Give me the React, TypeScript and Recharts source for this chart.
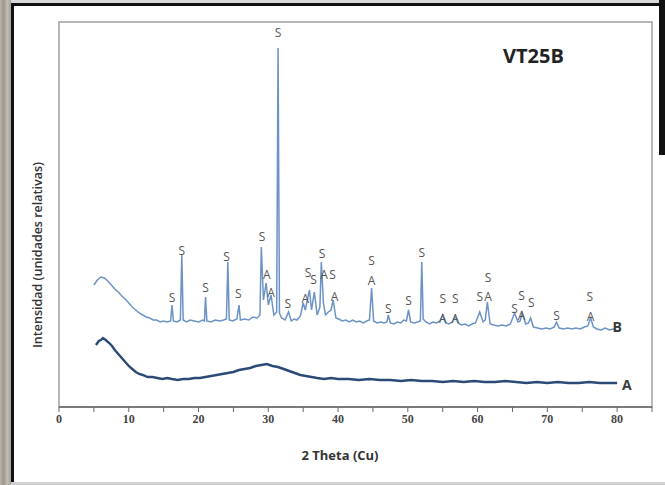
import React from "react";
import { LineChart, Line, XAxis, YAxis, Scatter, ReferenceArea } from "recharts";

// Intensity in arbitrary relative units
const traceB = [
  { x: 5.0, y: 122 }, { x: 5.5, y: 127 }, { x: 6.0, y: 130 }, { x: 6.5, y: 129 }, { x: 7.0, y: 126 },
  { x: 7.5, y: 122 }, { x: 8.0, y: 118 }, { x: 8.5, y: 115 }, { x: 9.0, y: 111 }, { x: 9.5, y: 108 },
  { x: 10.0, y: 104 }, { x: 10.5, y: 100 }, { x: 11.0, y: 97 }, { x: 11.5, y: 94 }, { x: 12.0, y: 92 },
  { x: 12.5, y: 90 }, { x: 13.0, y: 89 }, { x: 13.5, y: 87 }, { x: 14.0, y: 87 }, { x: 14.5, y: 85 },
  { x: 15.0, y: 86 }, { x: 15.5, y: 85 }, { x: 16.0, y: 86 }, { x: 16.2, y: 102 }, { x: 16.4, y: 86 },
  { x: 16.9, y: 85 }, { x: 17.4, y: 87 }, { x: 17.6, y: 152 }, { x: 17.8, y: 87 }, { x: 18.3, y: 85 },
  { x: 18.8, y: 87 }, { x: 19.4, y: 86 }, { x: 20.0, y: 85 }, { x: 20.6, y: 87 }, { x: 20.85, y: 86 },
  { x: 21.0, y: 110 }, { x: 21.2, y: 86 }, { x: 21.8, y: 85 }, { x: 22.4, y: 87 }, { x: 23.0, y: 86 },
  { x: 23.6, y: 87 }, { x: 24.0, y: 88 }, { x: 24.2, y: 145 }, { x: 24.4, y: 87 }, { x: 24.9, y: 86 },
  { x: 25.5, y: 88 }, { x: 25.8, y: 102 }, { x: 26.0, y: 87 }, { x: 26.6, y: 88 }, { x: 27.2, y: 87 },
  { x: 27.8, y: 90 }, { x: 28.4, y: 89 }, { x: 28.8, y: 92 }, { x: 29.0, y: 160 }, { x: 29.3, y: 107 },
  { x: 29.7, y: 124 }, { x: 30.0, y: 102 }, { x: 30.4, y: 112 }, { x: 30.8, y: 92 }, { x: 31.2, y: 95 },
  { x: 31.4, y: 359 }, { x: 31.6, y: 94 }, { x: 31.9, y: 89 }, { x: 32.4, y: 87 }, { x: 32.9, y: 95 },
  { x: 33.3, y: 86 }, { x: 33.7, y: 88 }, { x: 34.1, y: 87 }, { x: 34.6, y: 91 }, { x: 35.0, y: 104 },
  { x: 35.3, y: 97 }, { x: 35.6, y: 107 }, { x: 35.9, y: 117 }, { x: 36.2, y: 97 }, { x: 36.6, y: 115 },
  { x: 37.0, y: 92 }, { x: 37.4, y: 100 }, { x: 37.6, y: 145 }, { x: 37.9, y: 104 }, { x: 38.2, y: 92 },
  { x: 38.6, y: 95 }, { x: 39.0, y: 97 }, { x: 39.3, y: 107 }, { x: 39.7, y: 89 }, { x: 40.1, y: 88 },
  { x: 40.6, y: 86 }, { x: 41.1, y: 87 }, { x: 41.6, y: 85 }, { x: 42.1, y: 87 }, { x: 42.6, y: 85 },
  { x: 43.1, y: 86 }, { x: 43.6, y: 84 }, { x: 44.1, y: 86 }, { x: 44.5, y: 87 }, { x: 44.8, y: 119 },
  { x: 45.1, y: 86 }, { x: 45.6, y: 84 }, { x: 46.1, y: 85 }, { x: 46.6, y: 84 }, { x: 47.0, y: 85 },
  { x: 47.2, y: 92 }, { x: 47.5, y: 84 }, { x: 48.0, y: 83 }, { x: 48.5, y: 85 }, { x: 49.0, y: 84 },
  { x: 49.4, y: 87 }, { x: 49.8, y: 86 }, { x: 50.1, y: 97 }, { x: 50.4, y: 85 }, { x: 50.9, y: 84 },
  { x: 51.4, y: 85 }, { x: 51.8, y: 86 }, { x: 52.0, y: 145 }, { x: 52.2, y: 88 }, { x: 52.6, y: 85 },
  { x: 53.1, y: 83 }, { x: 53.6, y: 85 }, { x: 54.1, y: 84 }, { x: 54.6, y: 86 }, { x: 55.0, y: 92 },
  { x: 55.4, y: 84 }, { x: 55.9, y: 83 }, { x: 56.4, y: 85 }, { x: 56.8, y: 91 }, { x: 57.2, y: 84 },
  { x: 57.7, y: 82 }, { x: 58.2, y: 83 }, { x: 58.7, y: 81 }, { x: 59.2, y: 83 }, { x: 59.7, y: 84 },
  { x: 60.3, y: 95 }, { x: 60.8, y: 85 }, { x: 61.1, y: 87 }, { x: 61.4, y: 105 }, { x: 61.8, y: 83 },
  { x: 62.3, y: 82 }, { x: 62.9, y: 81 }, { x: 63.5, y: 82 }, { x: 64.1, y: 81 }, { x: 64.7, y: 83 },
  { x: 65.3, y: 94 }, { x: 65.8, y: 85 }, { x: 66.1, y: 86 }, { x: 66.4, y: 94 }, { x: 66.9, y: 83 },
  { x: 67.3, y: 84 }, { x: 67.6, y: 89 }, { x: 68.0, y: 80 }, { x: 68.6, y: 79 }, { x: 69.2, y: 78 },
  { x: 69.8, y: 79 }, { x: 70.4, y: 78 }, { x: 71.0, y: 80 }, { x: 71.3, y: 85 }, { x: 71.7, y: 79 },
  { x: 72.3, y: 78 }, { x: 72.9, y: 79 }, { x: 73.5, y: 78 }, { x: 74.1, y: 79 }, { x: 74.7, y: 78 },
  { x: 75.3, y: 80 }, { x: 75.8, y: 81 }, { x: 76.2, y: 89 }, { x: 76.6, y: 80 }, { x: 77.1, y: 78 },
  { x: 77.7, y: 77 }, { x: 78.3, y: 79 }, { x: 78.9, y: 77 }, { x: 79.5, y: 78 }, { x: 80.0, y: 76 },
];

const traceA = [
  { x: 5.3, y: 62 }, { x: 5.7, y: 66 }, { x: 6.0, y: 67 }, { x: 6.3, y: 69 }, { x: 6.7, y: 67 },
  { x: 7.2, y: 64 }, { x: 7.6, y: 61 }, { x: 8.0, y: 57 }, { x: 8.5, y: 53 }, { x: 9.0, y: 49 },
  { x: 9.5, y: 45 }, { x: 10.0, y: 41 }, { x: 10.5, y: 38 }, { x: 11.0, y: 35 }, { x: 11.5, y: 33 },
  { x: 12.0, y: 32 }, { x: 12.7, y: 30 }, { x: 13.4, y: 30 }, { x: 14.1, y: 29 }, { x: 14.8, y: 28 },
  { x: 15.5, y: 29 }, { x: 16.2, y: 28 }, { x: 17.0, y: 27 }, { x: 17.8, y: 28 }, { x: 18.6, y: 28 },
  { x: 19.4, y: 29 }, { x: 20.2, y: 29 }, { x: 21.0, y: 30 }, { x: 21.8, y: 31 }, { x: 22.6, y: 32 },
  { x: 23.4, y: 33 }, { x: 24.2, y: 34 }, { x: 25.0, y: 35 }, { x: 25.8, y: 37 }, { x: 26.6, y: 38 },
  { x: 27.4, y: 39 }, { x: 28.2, y: 41 }, { x: 29.0, y: 42 }, { x: 29.8, y: 43 }, { x: 30.6, y: 41 },
  { x: 31.4, y: 40 }, { x: 32.2, y: 38 }, { x: 33.0, y: 36 }, { x: 33.8, y: 34 }, { x: 34.6, y: 32 },
  { x: 35.4, y: 31 }, { x: 36.2, y: 30 }, { x: 37.0, y: 29 }, { x: 38.0, y: 28 }, { x: 39.0, y: 29 },
  { x: 40.0, y: 28 }, { x: 41.5, y: 28 }, { x: 43.0, y: 27 }, { x: 44.5, y: 28 }, { x: 46.0, y: 27 },
  { x: 47.5, y: 27 }, { x: 49.0, y: 26 }, { x: 50.5, y: 27 }, { x: 52.0, y: 26 }, { x: 53.5, y: 26 },
  { x: 55.0, y: 25 }, { x: 56.5, y: 26 }, { x: 58.0, y: 25 }, { x: 59.5, y: 26 }, { x: 61.0, y: 25 },
  { x: 62.5, y: 25 }, { x: 64.0, y: 26 }, { x: 65.5, y: 25 }, { x: 67.0, y: 24 }, { x: 68.5, y: 25 },
  { x: 70.0, y: 24 }, { x: 71.5, y: 25 }, { x: 73.0, y: 24 }, { x: 74.5, y: 24 }, { x: 76.0, y: 25 },
  { x: 77.5, y: 24 }, { x: 79.0, y: 24 }, { x: 80.0, y: 24 },
];

// Phase labels (S / A) above peaks, and trace names
const peakLabels = [
  { x: 16.2, y: 110, t: "S" }, { x: 17.6, y: 157, t: "S" }, { x: 21.0, y: 120, t: "S" },
  { x: 24.0, y: 151, t: "S" }, { x: 25.7, y: 114, t: "S" }, { x: 29.1, y: 171, t: "S" },
  { x: 29.8, y: 133, t: "A" }, { x: 30.4, y: 115, t: "A" }, { x: 31.4, y: 375, t: "S" },
  { x: 32.8, y: 104, t: "S" }, { x: 35.3, y: 109, t: "A" }, { x: 35.7, y: 135, t: "S" },
  { x: 36.5, y: 128, t: "S" }, { x: 37.7, y: 154, t: "S" }, { x: 38.0, y: 133, t: "A" },
  { x: 39.2, y: 133, t: "S" }, { x: 39.5, y: 111, t: "A" }, { x: 44.8, y: 147, t: "S" },
  { x: 44.8, y: 127, t: "A" }, { x: 47.2, y: 99, t: "S" }, { x: 50.1, y: 107, t: "S" },
  { x: 52.0, y: 155, t: "S" }, { x: 55.0, y: 109, t: "S" }, { x: 55.0, y: 89, t: "A" },
  { x: 56.8, y: 109, t: "S" }, { x: 56.8, y: 89, t: "A" }, { x: 60.3, y: 111, t: "S" },
  { x: 61.5, y: 111, t: "A" }, { x: 61.5, y: 130, t: "S" }, { x: 65.3, y: 99, t: "S" },
  { x: 66.3, y: 92, t: "A" }, { x: 66.3, y: 112, t: "S" }, { x: 67.7, y: 105, t: "S" },
  { x: 71.3, y: 92, t: "S" }, { x: 76.1, y: 111, t: "S" }, { x: 76.2, y: 91, t: "A" },
];
const traceNames = [
  { x: 80.0, y: 81, t: "B" },
  { x: 81.4, y: 23, t: "A" },
];

const xTicks = [0, 5, 10, 15, 20, 25, 30, 35, 40, 45, 50, 55, 60, 65, 70, 75, 80, 85];
const xLabeled = [0, 10, 20, 30, 40, 50, 60, 70, 80];

const PeakText = (props: any) => {
  const { cx, cy, payload } = props;
  return (
    <text x={cx} y={cy} textAnchor="middle" dominantBaseline="central" fontSize={12}
      fontFamily="Open Sans, sans-serif" fill="#555">{payload.t}</text>
  );
};
const NameText = (props: any) => {
  const { cx, cy, payload } = props;
  return (
    <text x={cx} y={cy} textAnchor="middle" dominantBaseline="central" fontSize={14}
      fontWeight="bold" fontFamily="Open Sans, sans-serif" fill="#3a3a3a">{payload.t}</text>
  );
};

export default function App() {
  return (
    <div style={{ position: "absolute", left: 0, top: 0, width: 665, height: 485, background: "#ffffff", overflow: "hidden" }}>
      {/* frame decoration */}
      <div style={{ position: "absolute", left: 0, top: 0, width: 11, height: 485, background: "linear-gradient(90deg,#b9b4aa,#9d978d,#c3beb5,#a7a197)" }} />
      <div style={{ position: "absolute", left: 11, top: 0, width: 3, height: 485, background: "#111" }} />
      <div style={{ position: "absolute", left: 11, top: 0, width: 654, height: 3, background: "#d8d8d8" }} />
      <div style={{ position: "absolute", left: 11, top: 3, width: 654, height: 3, background: "#111" }} />
      <div style={{ position: "absolute", left: 659, top: 0, width: 6, height: 155, background: "#111" }} />
      <div style={{ position: "absolute", left: 11, top: 482, width: 654, height: 3, background: "#cfcfcf" }} />

      <div style={{ position: "absolute", left: 0, top: 0 }}>
        <LineChart width={665} height={485} margin={{ top: 22, right: 13, left: 59, bottom: 48 }}>
          <XAxis type="number" dataKey="x" domain={[0, 85]} ticks={xTicks} allowDataOverflow
            height={30} interval={0}
            tickFormatter={(v: number) => (xLabeled.includes(v) ? String(v) : "")}
            axisLine={{ stroke: "#666", strokeWidth: 1.5 }} tickLine={{ stroke: "#666" }} tickSize={5}
            tick={{ fontSize: 12, fill: "#444", fontFamily: "Liberation Serif, serif", fontWeight: "bold" }} />
          <YAxis type="number" dataKey="y" domain={[0, 385]} hide allowDataOverflow />
          <ReferenceArea x1={0} x2={85} y1={0} y2={385} fill="none" stroke="#a0a0a0" strokeWidth={1.5} ifOverflow="visible" />
          <Line data={traceA} dataKey="y" type="linear" stroke="#2c4a78" strokeWidth={2.4} dot={false} isAnimationActive={false} />
          <Line data={traceB} dataKey="y" type="linear" stroke="#6b93c6" strokeWidth={1.5} dot={false} isAnimationActive={false} />
          <Scatter data={peakLabels} dataKey="y" shape={PeakText} isAnimationActive={false} />
          <Scatter data={traceNames} dataKey="y" shape={NameText} isAnimationActive={false} />
        </LineChart>
      </div>

      <div style={{ position: "absolute", left: 503, top: 42, fontFamily: "Open Sans, sans-serif", fontWeight: "bold", fontSize: 20, color: "#222" }}>VT25B</div>
      <div style={{ position: "absolute", left: 270, top: 446, width: 140, textAlign: "center", fontFamily: "Open Sans, sans-serif", fontWeight: "bold", fontSize: 13, color: "#333" }}>2 Theta (Cu)</div>
      <div style={{ position: "absolute", left: 37, top: 255, transform: "translate(-50%,-50%) rotate(-90deg)", whiteSpace: "nowrap", fontFamily: "Open Sans, sans-serif", fontWeight: 600, fontSize: 12.5, color: "#333" }}>Intensidad (unidades relativas)</div>
    </div>
  );
}
